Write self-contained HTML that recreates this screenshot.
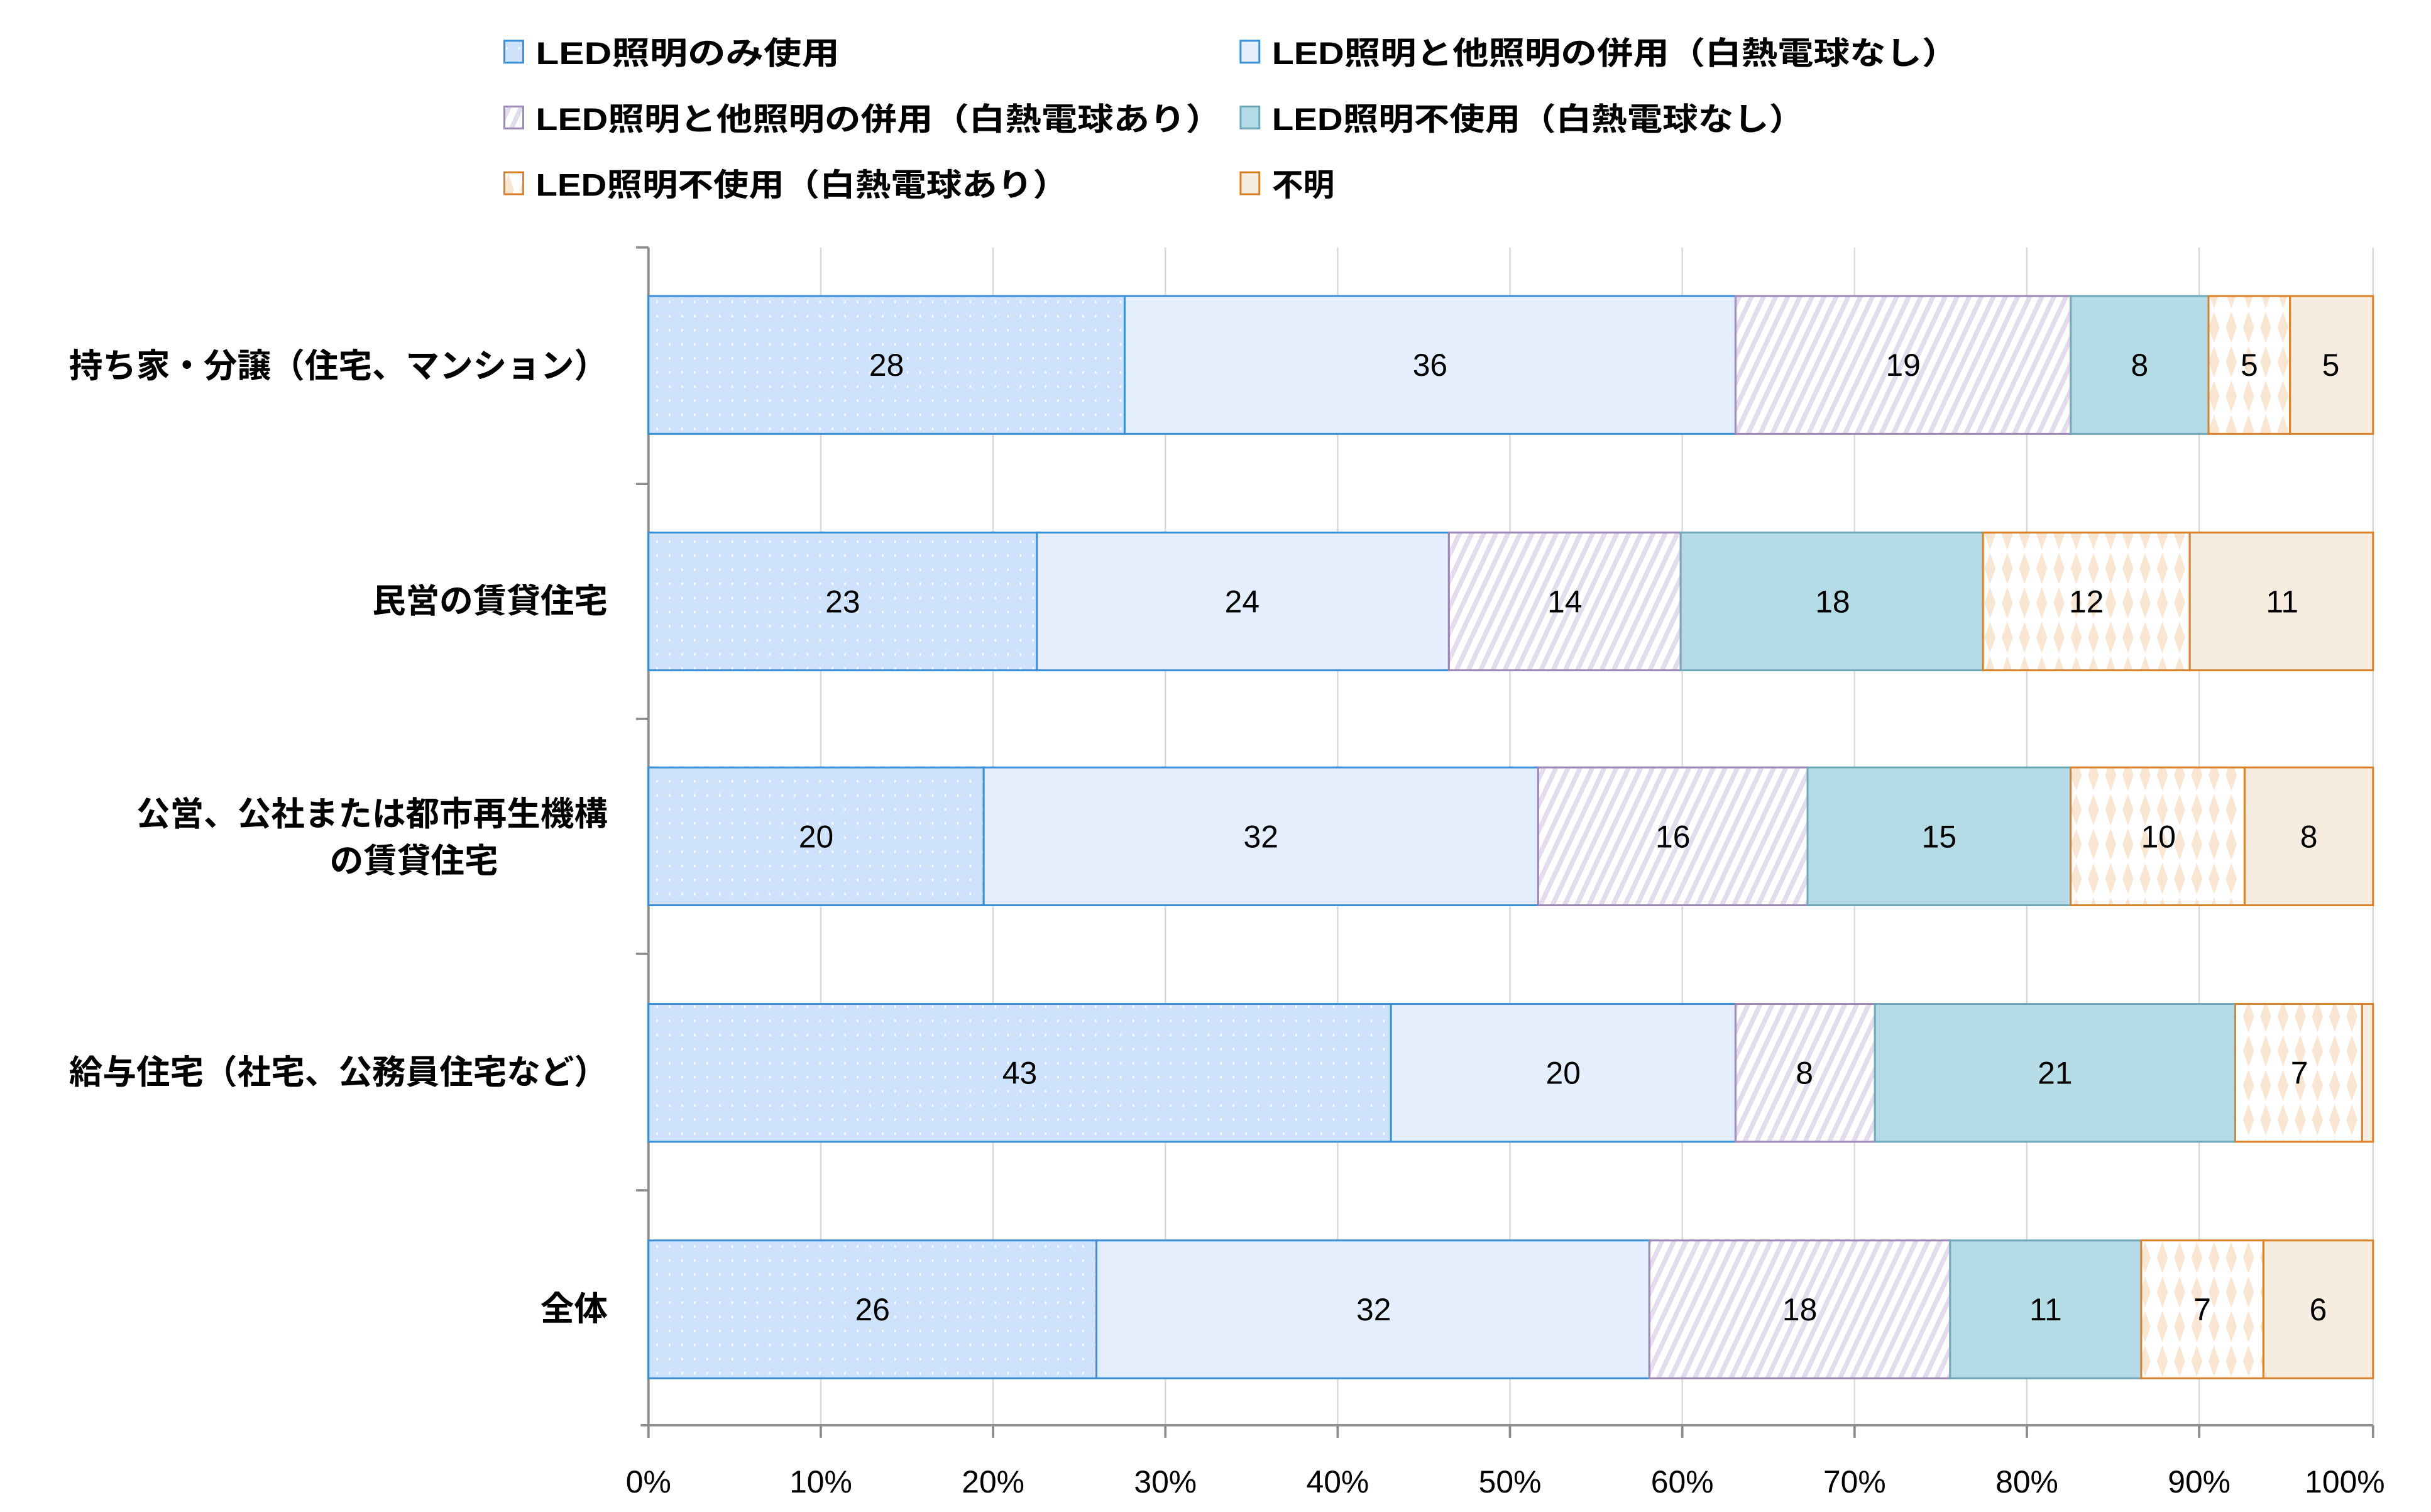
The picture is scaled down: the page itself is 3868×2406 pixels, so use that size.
<!DOCTYPE html>
<html><head><meta charset="utf-8"><style>html,body{margin:0;padding:0;background:#fff}svg{display:block}text{font-family:"Liberation Sans","Noto Sans CJK JP",sans-serif;fill:#000}</style></head><body>
<svg width="3868" height="2406" viewBox="0 0 1552 965.4" xmlns="http://www.w3.org/2000/svg">
<defs>
<pattern id="dots" width="8" height="9" patternUnits="userSpaceOnUse"><rect width="8" height="9" fill="#cfe2fb"/><rect x="3" y="3" width="1" height="1.6" fill="#fff"/></pattern>
<pattern id="hatch" width="7" height="7" patternUnits="userSpaceOnUse" patternTransform="rotate(25)"><rect width="7" height="7" fill="#fff"/><rect width="3" height="7" fill="#e2dcec"/></pattern>
<pattern id="diam" width="11" height="22" patternUnits="userSpaceOnUse"><rect width="11" height="22" fill="#fff"/><path d="M5.5 1 L9 11 L5.5 21 L2 11Z" fill="#f8e5d2"/></pattern>
</defs>
<g stroke="#d9d9d9" stroke-width="1">
<line x1="524" y1="158" x2="524" y2="910"/><line x1="634" y1="158" x2="634" y2="910"/><line x1="744" y1="158" x2="744" y2="910"/><line x1="854" y1="158" x2="854" y2="910"/><line x1="964" y1="158" x2="964" y2="910"/><line x1="1074" y1="158" x2="1074" y2="910"/><line x1="1184" y1="158" x2="1184" y2="910"/><line x1="1294" y1="158" x2="1294" y2="910"/><line x1="1404" y1="158" x2="1404" y2="910"/><line x1="1515" y1="158" x2="1515" y2="910"/>
</g>
<g stroke="#8c8c8c" stroke-width="1.5">
<line x1="414" y1="158" x2="414" y2="910"/><line x1="409" y1="910" x2="1515" y2="910"/>
<line x1="406" y1="158" x2="414" y2="158"/><line x1="406" y1="309" x2="414" y2="309"/><line x1="406" y1="459" x2="414" y2="459"/><line x1="406" y1="609" x2="414" y2="609"/><line x1="406" y1="760" x2="414" y2="760"/>
<line x1="414" y1="910" x2="414" y2="918"/><line x1="524" y1="910" x2="524" y2="918"/><line x1="634" y1="910" x2="634" y2="918"/><line x1="744" y1="910" x2="744" y2="918"/><line x1="854" y1="910" x2="854" y2="918"/><line x1="964" y1="910" x2="964" y2="918"/><line x1="1074" y1="910" x2="1074" y2="918"/><line x1="1184" y1="910" x2="1184" y2="918"/><line x1="1294" y1="910" x2="1294" y2="918"/><line x1="1404" y1="910" x2="1404" y2="918"/><line x1="1515" y1="910" x2="1515" y2="918"/>
</g>
<g font-size="20" text-anchor="middle">
<text x="414" y="953">0%</text><text x="524" y="953">10%</text><text x="634" y="953">20%</text><text x="744" y="953">30%</text><text x="854" y="953">40%</text><text x="964" y="953">50%</text><text x="1074" y="953">60%</text><text x="1184" y="953">70%</text><text x="1294" y="953">80%</text><text x="1404" y="953">90%</text><text x="1497" y="953">100%</text>
</g>
<g stroke-width="1.2">
<rect x="414" y="189" width="304" height="88" fill="url(#dots)" stroke="#3a8fd6"/>
<rect x="718" y="189" width="390" height="88" fill="#e4eefc" stroke="#3a8fd6"/>
<rect x="1108" y="189" width="214" height="88" fill="url(#hatch)" stroke="#9b88b5"/>
<rect x="1322" y="189" width="88" height="88" fill="#b5dce6" stroke="#6fa8b8"/>
<rect x="1410" y="189" width="52" height="88" fill="url(#diam)" stroke="#d9822b"/>
<rect x="1462" y="189" width="53" height="88" fill="#f6ece0" stroke="#d9822b"/>
<rect x="414" y="340" width="248" height="88" fill="url(#dots)" stroke="#3a8fd6"/>
<rect x="662" y="340" width="263" height="88" fill="#e4eefc" stroke="#3a8fd6"/>
<rect x="925" y="340" width="148" height="88" fill="url(#hatch)" stroke="#9b88b5"/>
<rect x="1073" y="340" width="193" height="88" fill="#b5dce6" stroke="#6fa8b8"/>
<rect x="1266" y="340" width="132" height="88" fill="url(#diam)" stroke="#d9822b"/>
<rect x="1398" y="340" width="117" height="88" fill="#f6ece0" stroke="#d9822b"/>
<rect x="414" y="490" width="214" height="88" fill="url(#dots)" stroke="#3a8fd6"/>
<rect x="628" y="490" width="354" height="88" fill="#e4eefc" stroke="#3a8fd6"/>
<rect x="982" y="490" width="172" height="88" fill="url(#hatch)" stroke="#9b88b5"/>
<rect x="1154" y="490" width="168" height="88" fill="#b5dce6" stroke="#6fa8b8"/>
<rect x="1322" y="490" width="111" height="88" fill="url(#diam)" stroke="#d9822b"/>
<rect x="1433" y="490" width="82" height="88" fill="#f6ece0" stroke="#d9822b"/>
<rect x="414" y="641" width="474" height="88" fill="url(#dots)" stroke="#3a8fd6"/>
<rect x="888" y="641" width="220" height="88" fill="#e4eefc" stroke="#3a8fd6"/>
<rect x="1108" y="641" width="89" height="88" fill="url(#hatch)" stroke="#9b88b5"/>
<rect x="1197" y="641" width="230" height="88" fill="#b5dce6" stroke="#6fa8b8"/>
<rect x="1427" y="641" width="81" height="88" fill="url(#diam)" stroke="#d9822b"/>
<rect x="1508" y="641" width="7" height="88" fill="#f6ece0" stroke="#d9822b"/>
<rect x="414" y="792" width="286" height="88" fill="url(#dots)" stroke="#3a8fd6"/>
<rect x="700" y="792" width="353" height="88" fill="#e4eefc" stroke="#3a8fd6"/>
<rect x="1053" y="792" width="192" height="88" fill="url(#hatch)" stroke="#9b88b5"/>
<rect x="1245" y="792" width="122" height="88" fill="#b5dce6" stroke="#6fa8b8"/>
<rect x="1367" y="792" width="78" height="88" fill="url(#diam)" stroke="#d9822b"/>
<rect x="1445" y="792" width="70" height="88" fill="#f6ece0" stroke="#d9822b"/>
</g>
<g font-size="20" text-anchor="middle">
<text x="566" y="240">28</text><text x="913" y="240">36</text><text x="1215" y="240">19</text><text x="1366" y="240">8</text><text x="1436" y="240">5</text><text x="1488" y="240">5</text>
<text x="538" y="391">23</text><text x="793" y="391">24</text><text x="999" y="391">14</text><text x="1170" y="391">18</text><text x="1332" y="391">12</text><text x="1457" y="391">11</text>
<text x="521" y="541">20</text><text x="805" y="541">32</text><text x="1068" y="541">16</text><text x="1238" y="541">15</text><text x="1378" y="541">10</text><text x="1474" y="541">8</text>
<text x="651" y="692">43</text><text x="998" y="692">20</text><text x="1152" y="692">8</text><text x="1312" y="692">21</text><text x="1468" y="692">7</text>
<text x="557" y="843">26</text><text x="877" y="843">32</text><text x="1149" y="843">18</text><text x="1306" y="843">11</text><text x="1406" y="843">7</text><text x="1480" y="843">6</text>
</g>
<g font-size="21.5" font-weight="bold" text-anchor="end">
<text x="388" y="241">持ち家・分譲（住宅、マンション）</text>
<text x="388" y="391">民営の賃貸住宅</text>
<text x="388" y="527">公営、公社または都市再生機構</text>
<text x="318" y="557">の賃貸住宅</text>
<text x="388" y="692">給与住宅（社宅、公務員住宅など）</text>
<text x="388" y="843">全体</text>
</g>
<g stroke-width="1.2">
<rect x="322" y="26" width="12" height="14" fill="url(#dots)" stroke="#3a8fd6"/>
<rect x="792" y="26" width="12" height="14" fill="#e4eefc" stroke="#3a8fd6"/>
<rect x="322" y="68" width="12" height="14" fill="url(#hatch)" stroke="#9b88b5"/>
<rect x="792" y="68" width="12" height="14" fill="#b5dce6" stroke="#6fa8b8"/>
<rect x="322" y="110" width="12" height="14" fill="url(#diam)" stroke="#d9822b"/>
<rect x="792" y="110" width="12" height="14" fill="#f6ece0" stroke="#d9822b"/>
</g>
<g font-size="20" font-weight="bold">
<text x="342" y="41" textLength="194" lengthAdjust="spacingAndGlyphs">LED照明のみ使用</text>
<text x="812" y="41" textLength="438" lengthAdjust="spacingAndGlyphs">LED照明と他照明の併用（白熱電球なし）</text>
<text x="342" y="83" textLength="438" lengthAdjust="spacingAndGlyphs">LED照明と他照明の併用（白熱電球あり）</text>
<text x="812" y="83" textLength="340" lengthAdjust="spacingAndGlyphs">LED照明不使用（白熱電球なし）</text>
<text x="342" y="125" textLength="340" lengthAdjust="spacingAndGlyphs">LED照明不使用（白熱電球あり）</text>
<text x="812" y="125">不明</text>
</g>
</svg>
</body></html>
